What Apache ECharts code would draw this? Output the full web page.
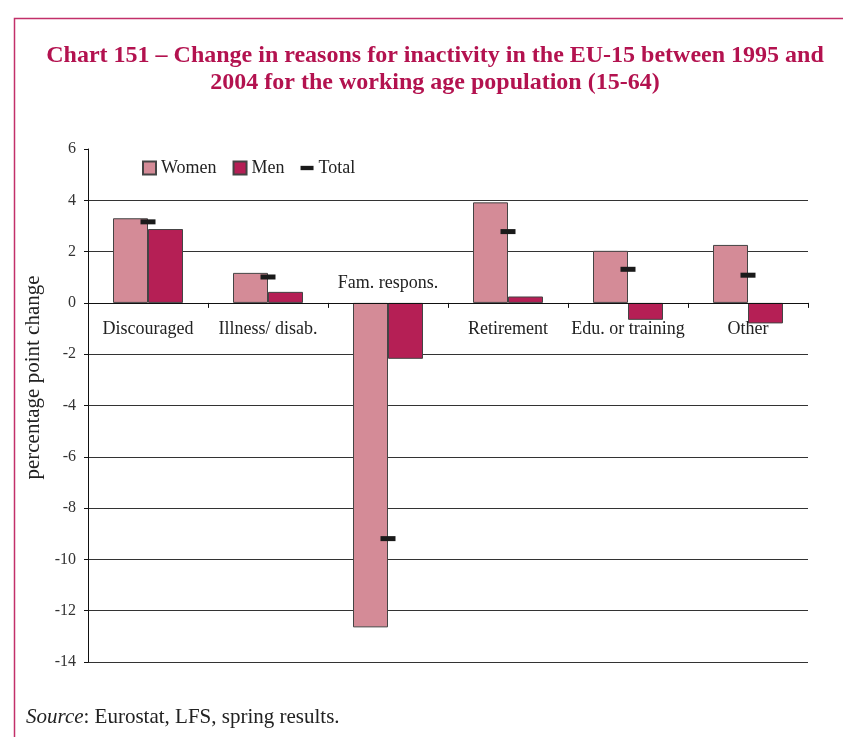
<!DOCTYPE html>
<html><head><meta charset="utf-8">
<script src="https://cdn.jsdelivr.net/npm/echarts@6/dist/echarts.min.js"></script>
<style>html,body{margin:0;padding:0;background:#fff}#c{width:843px;height:737px}</style>
</head><body><div id="c"></div>
<script>
const categories = ['Discouraged', 'Illness/ disab.', 'Fam. respons.', 'Retirement', 'Edu. or training', 'Other'];
const women = [3.30, 1.17, -12.65, 3.92, 2.03, 2.26];
const men = [2.88, 0.43, -2.18, 0.25, -0.66, -0.80];
const total = [3.16, 1.01, -9.19, 2.78, 1.31, 1.08];
const seriesNames = ['Women', 'Men', 'Total'];
const yMin = -14, yMax = 6, yStep = 2;
const titleText = 'Chart 151 \u2013 Change in reasons for inactivity in the EU-15 between 1995 and\n2004 for the working age population (15-64)';
const yAxisName = 'percentage point change';
const sourceText = '{i|Source}: Eurostat, LFS, spring results.';

const SERIF = '"Liberation Serif", "DejaVu Serif", serif';
const W = 843, H = 737;
const GRID = {left: 88, right: 35, top: 149, bottom: 75};
const plotH = H - GRID.top - GRID.bottom;
const zeroOffset = -plotH * (0 - yMin) / (yMax - yMin);

const chart = echarts.init(document.getElementById('c'), null, {renderer: 'canvas'});

const xData = categories.map(function (c, i) {
  if (women[i] < 0 && men[i] < 0) {
    return {value: c, textStyle: {verticalAlign: 'bottom', padding: [0, 0, 28, 0]}};
  }
  return c;
});

const gridColors = [];
for (let v = yMin; v <= yMax; v += yStep) gridColors.push(v === yMax ? 'rgba(0,0,0,0)' : '#333333');

chart.setOption({
  backgroundColor: '#ffffff',
  animation: false,
  title: [{
    text: titleText,
    left: 435,
    top: 42,
    padding: 0,
    textAlign: 'center',
    textStyle: {fontFamily: SERIF, fontWeight: 'bold', fontSize: 24, lineHeight: 27, color: '#b3124f'}
  }, {
    text: sourceText,
    left: 26,
    top: 707,
    padding: 0,
    textStyle: {
      fontFamily: SERIF, fontWeight: 'normal', fontSize: 21, color: '#222',
      rich: {i: {fontFamily: SERIF, fontStyle: 'italic', fontSize: 21, color: '#222'}}
    }
  }],
  graphic: [{
    type: 'rect', left: 12, top: 16, silent: true,
    shape: {width: 900, height: 800},
    style: {fill: 'none', stroke: '#c2306a', lineWidth: 1.5}
  }],
  legend: {
    left: 142, top: 159, padding: 0,
    itemWidth: 13, itemHeight: 13, itemGap: 16,
    textStyle: {fontFamily: SERIF, fontSize: 18, color: '#222'},
    data: [
      {name: seriesNames[0], icon: 'rect'},
      {name: seriesNames[1], icon: 'rect'},
      {name: seriesNames[2], icon: 'path://M0,0H15V5H0Z'}
    ]
  },
  grid: {left: GRID.left, right: GRID.right, top: GRID.top, bottom: GRID.bottom, containLabel: false},
  xAxis: {
    type: 'category',
    data: xData,
    z: 5,
    position: 'bottom',
    offset: zeroOffset,
    axisLine: {onZero: false, lineStyle: {color: '#111', width: 1}},
    axisTick: {show: true, length: 5, lineStyle: {color: '#111'}},
    axisLabel: {fontFamily: SERIF, fontSize: 18, color: '#222', margin: 17, interval: 0},
    splitLine: {show: false}
  },
  yAxis: {
    type: 'value',
    min: yMin, max: yMax, interval: yStep,
    name: yAxisName,
    nameLocation: 'middle',
    nameGap: 42,
    nameTextStyle: {fontFamily: SERIF, fontSize: 21, color: '#222', padding: [0, 0, 0, 56]},
    axisLine: {show: true, lineStyle: {color: '#111', width: 1}},
    axisTick: {show: true, length: 4, lineStyle: {color: '#111'}},
    axisLabel: {fontFamily: SERIF, fontSize: 16, color: '#333', margin: 12},
    splitLine: {show: true, lineStyle: {color: gridColors, width: 1}}
  },
  series: [{
    name: seriesNames[0], type: 'bar', data: women,
    barWidth: 35, barGap: '0%',
    itemStyle: {color: '#d48b97', borderColor: '#444', borderWidth: 1}
  }, {
    name: seriesNames[1], type: 'bar', data: men,
    barWidth: 35, barGap: '0%',
    itemStyle: {color: '#b51f55', borderColor: '#444', borderWidth: 1}
  }, {
    name: seriesNames[2], type: 'scatter', data: total,
    symbol: 'rect', symbolSize: [15, 5], z: 4,
    itemStyle: {color: '#1a1a1a', opacity: 1}
  }]
});
</script></body></html>
